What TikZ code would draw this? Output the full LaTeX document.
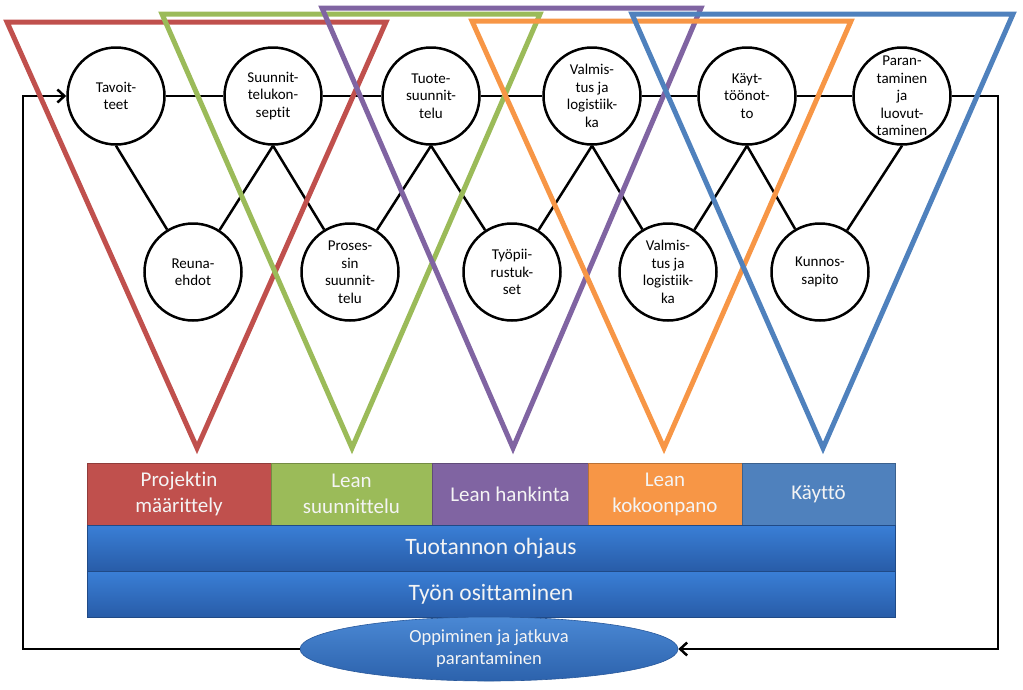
\documentclass[tikz,border=0pt]{standalone}
\usepackage{fontspec}
\setmainfont{Carlito}[RawFeature={-liga}]
\usetikzlibrary{arrows.meta,shapes.geometric}
\definecolor{cred}{HTML}{C0504D}
\definecolor{cgreen}{HTML}{9BBB59}
\definecolor{cpurple}{HTML}{8064A2}
\definecolor{corange}{HTML}{F79646}
\definecolor{cblue}{HTML}{4F81BD}
\definecolor{wtop}{HTML}{3A7FD6}
\definecolor{wbot}{HTML}{285CA8}
\definecolor{etop}{HTML}{4A88D4}
\definecolor{ebot}{HTML}{2C62AC}
\definecolor{txtw}{HTML}{F4F4F4}
\begin{document}
\begin{tikzpicture}[x=1pt,y=-1pt,
  circ/.style={circle, draw=black, line width=2.5pt, fill=white, minimum size=97pt,
    inner sep=0pt, align=center, font=\fontsize{15}{17.5}\selectfont},
  conn/.style={line width=2.5pt, draw=black},
  arr/.style={conn, -{Straight Barb[length=7pt,width=13pt]}},
  tri/.style={line width=5pt, line join=miter},
  bar/.style={anchor=north west, inner sep=0pt, outer sep=0pt, minimum height=62pt,
    text=txtw, align=center, font=\fontsize{21}{26}\selectfont,
    draw=#1!75!black, line width=0.8pt, fill=#1},
  wide/.style={anchor=north west, inner sep=0pt, outer sep=0pt, minimum height=46pt,
    minimum width=808pt, text=txtw, font=\fontsize{23.5}{28}\selectfont,
    top color=wtop, bottom color=wbot, draw=wbot!80!black, line width=0.6pt},
  ell/.style={ellipse, inner sep=0pt, minimum width=378pt, minimum height=64pt,
    text=txtw, align=center, font=\fontsize{18.5}{22}\selectfont,
    top color=etop, bottom color=ebot, draw=ebot!90!black, line width=0.6pt}
]
\useasboundingbox (0,0) rectangle (1023,689);

% circles
\node[circ] (tav) at (116,96) {Tavoit-\\teet};
\node[circ] (suu) at (273,96) {Suunnit-\\telukon-\\septit};
\node[circ] (tuo) at (431,96) {Tuote-\\suunnit-\\telu};
\node[circ] (val) at (592,96) {Valmis-\\tus ja\\logistiik-\\ka};
\node[circ] (kay) at (747,96) {Käyt-\\töönot-\\to};
\node[circ] (par) at (902,96) {Paran-\\taminen\\ja\\luovut-\\taminen};
\node[circ] (reu) at (193,272) {Reuna-\\ehdot};
\node[circ] (pro) at (350,272) {Proses-\\sin\\suunnit-\\telu};
\node[circ] (tyo) at (512,272) {Työpii-\\rustuk-\\set};
\node[circ] (vab) at (668,272) {Valmis-\\tus ja\\logistiik-\\ka};
\node[circ] (kun) at (820,272) {Kunnos-\\sapito};

% bars
\node[bar=cred, minimum width=184pt] (b1) at (87,463) {Projektin\\määrittely};
\node[bar=cgreen, minimum width=161pt] (b2) at (271,463) {Lean\\suunnittelu};
\node[bar=cpurple, minimum width=156pt] (b3) at (432,463) {Lean hankinta};
\node[bar=corange, minimum width=154pt] (b4) at (588,463) {Lean\\kokoonpano};
\node[bar=cblue, minimum width=153pt] (b5) at (742,463) {Käyttö};
\node[wide] (w1) at (87,525) {Tuotannon ohjaus};
\node[wide] (w2) at (87,571) {Työn osittaminen};
\node[ell] (oj) at (489,649) {Oppiminen ja jatkuva\\parantaminen};

% connectors
\coordinate (r1) at (998,96);
\coordinate (r2) at (998,649);
\coordinate (l1) at (23,649);
\coordinate (l2) at (23,96);
\draw[conn] (tav) -- (suu) -- (tuo) -- (val) -- (kay) -- (par);
\draw[conn] (tav.south) -- (reu);
\draw[conn] (suu.south) -- (reu);
\draw[conn] (suu.south) -- (pro);
\draw[conn] (tuo.south) -- (pro);
\draw[conn] (tuo.south) -- (tyo);
\draw[conn] (val.south) -- (tyo);
\draw[conn] (val.south) -- (vab);
\draw[conn] (kay.south) -- (vab);
\draw[conn] (kay.south) -- (kun);
\draw[conn] (par.south) -- (kun);
\draw[arr, line join=miter] (par.east) -- (r1) -- (r2) -- (oj.east);
\draw[arr, line join=miter] (oj.west) -- (l1) -- (l2) -- (tav.west);

% triangles
\coordinate (ra) at (7,22);  \coordinate (rb) at (386,22);  \coordinate (rc) at (197,448);
\coordinate (ga) at (162,14); \coordinate (gb) at (540,14); \coordinate (gc) at (352,448);
\coordinate (pa) at (322,8);  \coordinate (pb) at (701,8);  \coordinate (pc) at (513,448);
\coordinate (oa) at (472,21); \coordinate (ob) at (851,21); \coordinate (oc) at (664,448);
\coordinate (ba) at (632,14); \coordinate (bb) at (1013,14); \coordinate (bc) at (823,448);
\draw[tri, cred] (ra) -- (rb) -- (rc) -- cycle;
\draw[tri, cgreen] (ga) -- (gb) -- (gc) -- cycle;
\draw[tri, cpurple] (pa) -- (pb) -- (pc) -- cycle;
\draw[tri, corange] (oa) -- (ob) -- (oc) -- cycle;
\draw[tri, cblue] (ba) -- (bb) -- (bc) -- cycle;
\end{tikzpicture}
\end{document}
